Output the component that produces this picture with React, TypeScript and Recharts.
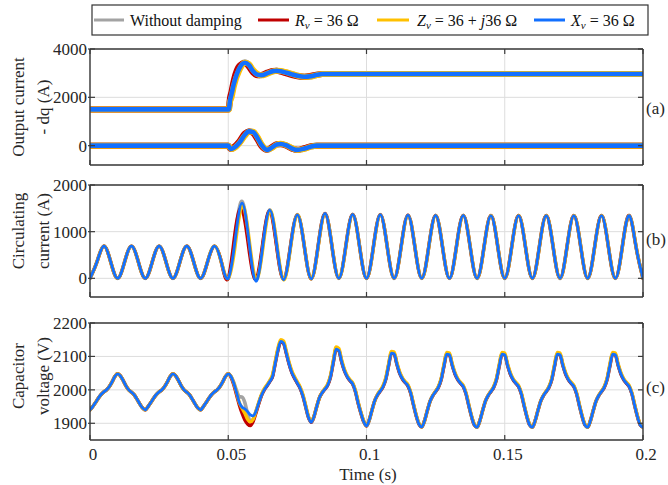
import React from 'react';
import { LineChart, Line, XAxis, YAxis, CartesianGrid } from 'recharts';

const FONT = "'Liberation Serif', 'DejaVu Serif', serif";
const AX = '#3a3a3a';
const GRID = '#dddddd';
const C_NONE = '#a3a3a3';
const C_RV = '#c00000';
const C_ZV = '#ffc000';
const C_XV = '#1270ff';

const timeTicks = [0, 0.05, 0.1, 0.15, 0.2];
const timeTickLabels = ['0', '0.05', '0.1', '0.15', '0.2'];

// ---------- (a) Output current dq ----------
const yTicksA = [0, 2000, 4000];
const yLabelsA = ['0', '2000', '4000'];
const timeA = [0, 0.05, 0.0502, 0.0506, 0.0512, 0.052, 0.054, 0.056, 0.0575, 0.059, 0.0605, 0.062, 0.064, 0.066, 0.0675, 0.069, 0.071, 0.073, 0.075, 0.0775, 0.08, 0.082, 0.084, 0.2];
const noneD = [1500, 1500, 1500, 1850, 2150, 2580, 3230, 3450, 3340, 3070, 2930, 2920, 2990, 3080, 3100, 3080, 3020, 2950, 2890, 2850, 2870, 2930, 2965, 2965];
const noneQ = [0, 0, -30, -100, -135, -90, 120, 450, 590, 560, 330, 30, -175, -60, 50, 70, 10, -110, -175, -120, -30, 0, 0, 0];
const rvD = [1500, 1500, 1540, 1950, 2250, 2700, 3300, 3420, 3260, 3020, 2910, 2930, 3020, 3090, 3100, 3060, 2990, 2920, 2870, 2850, 2890, 2940, 2965, 2965];
const rvQ = [0, 0, -40, -110, -130, -60, 180, 500, 590, 520, 270, -20, -170, -40, 60, 60, 0, -120, -170, -100, -20, 0, 0, 0];
const zvD = [1500, 1500, 1500, 1800, 2000, 2450, 3120, 3430, 3370, 3130, 2970, 2910, 2970, 3060, 3100, 3090, 3040, 2970, 2900, 2850, 2860, 2920, 2965, 2965];
const zvQ = [0, 0, -20, -90, -135, -110, 100, 410, 580, 580, 370, 60, -160, -80, 40, 75, 20, -100, -175, -135, -40, -5, 0, 0];
const xvD = [1500, 1500, 1500, 1850, 2150, 2550, 3200, 3430, 3330, 3080, 2940, 2920, 2990, 3080, 3100, 3080, 3020, 2950, 2890, 2850, 2870, 2930, 2965, 2965];
const xvQ = [0, 0, -30, -100, -135, -90, 120, 450, 590, 560, 330, 30, -175, -60, 50, 70, 10, -110, -175, -120, -30, 0, 0, 0];

// ---------- (b) Circulating current ----------
const yTicksB = [0, 1000, 2000];
const yLabelsB = ['0', '1000', '2000'];
const timeB = [
  0, 0.0025, 0.005, 0.0075, 0.01, 0.0125, 0.015, 0.0175, 0.02, 0.0225,
  0.025, 0.0275, 0.03, 0.0325, 0.035, 0.0375, 0.04, 0.0425, 0.045, 0.0475,
  0.05, 0.0525, 0.055, 0.0575, 0.06, 0.0625, 0.065, 0.0675, 0.07, 0.0725,
  0.075, 0.0775, 0.08, 0.0825, 0.085, 0.0875, 0.09, 0.0925, 0.095, 0.0975,
  0.1, 0.1025, 0.105, 0.1075, 0.11, 0.1125, 0.115, 0.1175, 0.12, 0.1225,
  0.125, 0.1275, 0.13, 0.1325, 0.135, 0.1375, 0.14, 0.1425, 0.145, 0.1475,
  0.15, 0.1525, 0.155, 0.1575, 0.16, 0.1625, 0.165, 0.1675, 0.17, 0.1725,
  0.175, 0.1775, 0.18, 0.1825, 0.185, 0.1875, 0.19, 0.1925, 0.195, 0.1975,
  0.2,
];
const noneB = [
  0, 350, 690, 350, 0, 350, 690, 350, 0, 350, 690, 350, 0, 350, 690, 350, 0, 350, 690, 350, 0,
  880, 1650, 760, -40, 720, 1470, 710, -20, 680, 1365, 690, -10,
  690, 1390, 690, 0, 680, 1370, 680, 0, 675, 1365, 675, 0, 670, 1355, 670, 0,
  670, 1350, 670, 0, 670, 1350, 670, 0, 670, 1345, 670, 0, 670, 1345, 670, 0,
  670, 1345, 670, 0, 670, 1345, 670, 0, 670, 1345, 670, 0, 670, 1345, 670, 0,
];
const rvB = [
  0, 350, 690, 350, 0, 350, 690, 350, 0, 350, 690, 350, 0, 350, 690, 350, 0, 350, 690, 350, 0,
  1000, 1480, 620, -20, 760, 1440, 680, -20, 690, 1360, 690, -10,
  690, 1390, 690, 0, 680, 1370, 680, 0, 675, 1365, 675, 0, 670, 1355, 670, 0,
  670, 1350, 670, 0, 670, 1350, 670, 0, 670, 1345, 670, 0, 670, 1345, 670, 0,
  670, 1345, 670, 0, 670, 1345, 670, 0, 670, 1345, 670, 0, 670, 1345, 670, 0,
];
const zvB = [
  0, 350, 690, 350, 0, 350, 690, 350, 0, 350, 690, 350, 0, 350, 690, 350, 0, 350, 690, 350, 0,
  700, 1560, 860, -20, 640, 1450, 770, -30, 650, 1360, 700, -10,
  670, 1380, 700, 0, 665, 1365, 685, 0, 660, 1360, 680, 0, 660, 1345, 680, 0,
  660, 1345, 680, 0, 660, 1345, 680, 0, 660, 1345, 680, 0, 660, 1345, 680, 0,
  660, 1345, 680, 0, 660, 1345, 680, 0, 660, 1345, 680, 0, 660, 1345, 680, 0,
];
const xvB = [
  0, 350, 690, 350, 0, 350, 690, 350, 0, 350, 690, 350, 0, 350, 690, 350, 0, 350, 690, 350, 0,
  820, 1610, 790, -60, 700, 1460, 730, -30, 680, 1360, 690, -10,
  690, 1390, 690, 0, 680, 1370, 680, 0, 675, 1365, 675, 0, 670, 1355, 670, 0,
  670, 1350, 670, 0, 670, 1350, 670, 0, 670, 1345, 670, 0, 670, 1345, 670, 0,
  670, 1345, 670, 0, 670, 1345, 670, 0, 670, 1345, 670, 0, 670, 1345, 670, 0,
];

// ---------- (c) Capacitor voltage ----------
const yTicksC = [1900, 2000, 2100, 2200];
const yLabelsC = ['1900', '2000', '2100', '2200'];
const timeC = [
  0, 0.001, 0.002, 0.003, 0.004, 0.005, 0.006, 0.007, 0.008, 0.009,
  0.01, 0.011, 0.012, 0.013, 0.014, 0.015, 0.016, 0.017, 0.018, 0.019,
  0.02, 0.021, 0.022, 0.023, 0.024, 0.025, 0.026, 0.027, 0.028, 0.029,
  0.03, 0.031, 0.032, 0.033, 0.034, 0.035, 0.036, 0.037, 0.038, 0.039,
  0.04, 0.041, 0.042, 0.043, 0.044, 0.045, 0.046, 0.047, 0.048, 0.049,
  0.05, 0.051, 0.052, 0.053, 0.054, 0.055, 0.056, 0.057, 0.058, 0.059,
  0.06, 0.061, 0.062, 0.063, 0.064, 0.065, 0.066, 0.067, 0.068, 0.069,
  0.07, 0.071, 0.072, 0.073, 0.074, 0.075, 0.076, 0.077, 0.078, 0.079,
  0.08, 0.081, 0.082, 0.083, 0.084, 0.085, 0.086, 0.087, 0.088, 0.089,
  0.09, 0.091, 0.092, 0.093, 0.094, 0.095, 0.096, 0.097, 0.098, 0.099,
  0.1, 0.101, 0.102, 0.103, 0.104, 0.105, 0.106, 0.107, 0.108, 0.109,
  0.11, 0.111, 0.112, 0.113, 0.114, 0.115, 0.116, 0.117, 0.118, 0.119,
  0.12, 0.121, 0.122, 0.123, 0.124, 0.125, 0.126, 0.127, 0.128, 0.129,
  0.13, 0.131, 0.132, 0.133, 0.134, 0.135, 0.136, 0.137, 0.138, 0.139,
  0.14, 0.141, 0.142, 0.143, 0.144, 0.145, 0.146, 0.147, 0.148, 0.149,
  0.15, 0.151, 0.152, 0.153, 0.154, 0.155, 0.156, 0.157, 0.158, 0.159,
  0.16, 0.161, 0.162, 0.163, 0.164, 0.165, 0.166, 0.167, 0.168, 0.169,
  0.17, 0.171, 0.172, 0.173, 0.174, 0.175, 0.176, 0.177, 0.178, 0.179,
  0.18, 0.181, 0.182, 0.183, 0.184, 0.185, 0.186, 0.187, 0.188, 0.189,
  0.19, 0.191, 0.192, 0.193, 0.194, 0.195, 0.196, 0.197, 0.198, 0.199,
  0.2,
];
const xvC = [
  1940, 1950, 1962, 1975, 1986, 1994, 2000, 2010, 2024, 2040,
  2048, 2042, 2028, 2012, 2000, 1993, 1985, 1972, 1958, 1946,
  1940, 1950, 1962, 1975, 1986, 1994, 2000, 2010, 2024, 2040,
  2048, 2042, 2028, 2012, 2000, 1993, 1985, 1972, 1958, 1946,
  1940, 1950, 1962, 1975, 1986, 1994, 2000, 2010, 2024, 2040,
  2048, 2040, 2020, 1992, 1962, 1948, 1943, 1935, 1925, 1922,
  1935, 1960, 1983, 2000, 2012, 2025, 2040, 2080, 2120, 2145,
  2140, 2110, 2078, 2052, 2035, 2020, 2005, 1982, 1950, 1918,
  1903, 1920, 1950, 1977, 1992, 2003, 2015, 2040, 2083, 2122,
  2118, 2085, 2058, 2040, 2028, 2018, 1995, 1960, 1930, 1905,
  1892, 1910, 1940, 1968, 1985, 1997, 2010, 2033, 2073, 2110,
  2108, 2077, 2050, 2033, 2022, 2012, 1990, 1955, 1922, 1897,
  1889, 1908, 1938, 1966, 1983, 1995, 2008, 2031, 2071, 2107,
  2105, 2074, 2048, 2031, 2020, 2010, 1988, 1953, 1920, 1895,
  1888, 1908, 1938, 1966, 1983, 1995, 2008, 2031, 2071, 2107,
  2105, 2074, 2048, 2031, 2020, 2010, 1988, 1953, 1920, 1895,
  1888, 1908, 1938, 1966, 1983, 1995, 2008, 2031, 2071, 2107,
  2105, 2074, 2048, 2031, 2020, 2010, 1988, 1953, 1920, 1895,
  1888, 1908, 1938, 1966, 1983, 1995, 2008, 2031, 2071, 2107,
  2105, 2074, 2048, 2031, 2020, 2010, 1988, 1953, 1920, 1895,
  1888,
];
const rvC = [
  1940, 1950, 1962, 1975, 1986, 1994, 2000, 2010, 2024, 2040,
  2048, 2042, 2028, 2012, 2000, 1993, 1985, 1972, 1958, 1946,
  1940, 1950, 1962, 1975, 1986, 1994, 2000, 2010, 2024, 2040,
  2048, 2042, 2028, 2012, 2000, 1993, 1985, 1972, 1958, 1946,
  1940, 1950, 1962, 1975, 1986, 1994, 2000, 2010, 2024, 2040,
  2048, 2038, 2015, 1985, 1955, 1930, 1910, 1898, 1893, 1905,
  1930, 1958, 1983, 2000, 2012, 2025, 2040, 2080, 2120, 2145,
  2140, 2110, 2078, 2052, 2035, 2020, 2005, 1982, 1950, 1918,
  1903, 1920, 1950, 1977, 1992, 2003, 2015, 2040, 2083, 2122,
  2118, 2085, 2058, 2040, 2028, 2018, 1995, 1960, 1930, 1905,
  1892, 1910, 1940, 1968, 1985, 1997, 2010, 2033, 2073, 2110,
  2108, 2077, 2050, 2033, 2022, 2012, 1990, 1955, 1922, 1897,
  1889, 1908, 1938, 1966, 1983, 1995, 2008, 2031, 2071, 2107,
  2105, 2074, 2048, 2031, 2020, 2010, 1988, 1953, 1920, 1895,
  1888, 1908, 1938, 1966, 1983, 1995, 2008, 2031, 2071, 2107,
  2105, 2074, 2048, 2031, 2020, 2010, 1988, 1953, 1920, 1895,
  1888, 1908, 1938, 1966, 1983, 1995, 2008, 2031, 2071, 2107,
  2105, 2074, 2048, 2031, 2020, 2010, 1988, 1953, 1920, 1895,
  1888, 1908, 1938, 1966, 1983, 1995, 2008, 2031, 2071, 2107,
  2105, 2074, 2048, 2031, 2020, 2010, 1988, 1953, 1920, 1895,
  1888,
];
const noneC = [
  1940, 1950, 1962, 1975, 1986, 1994, 2000, 2010, 2024, 2040,
  2048, 2042, 2028, 2012, 2000, 1993, 1985, 1972, 1958, 1946,
  1940, 1950, 1962, 1975, 1986, 1994, 2000, 2010, 2024, 2040,
  2048, 2042, 2028, 2012, 2000, 1993, 1985, 1972, 1958, 1946,
  1940, 1950, 1962, 1975, 1986, 1994, 2000, 2010, 2024, 2040,
  2048, 2040, 2022, 1998, 1980, 1978, 1962, 1928, 1905, 1912,
  1935, 1960, 1983, 2000, 2012, 2025, 2040, 2080, 2120, 2145,
  2140, 2110, 2078, 2052, 2035, 2020, 2005, 1982, 1950, 1918,
  1903, 1920, 1950, 1977, 1992, 2003, 2015, 2040, 2083, 2122,
  2118, 2085, 2058, 2040, 2028, 2018, 1995, 1960, 1930, 1905,
  1892, 1910, 1940, 1968, 1985, 1997, 2010, 2033, 2073, 2110,
  2108, 2077, 2050, 2033, 2022, 2012, 1990, 1955, 1922, 1897,
  1889, 1908, 1938, 1966, 1983, 1995, 2008, 2031, 2071, 2107,
  2105, 2074, 2048, 2031, 2020, 2010, 1988, 1953, 1920, 1895,
  1888, 1908, 1938, 1966, 1983, 1995, 2008, 2031, 2071, 2107,
  2105, 2074, 2048, 2031, 2020, 2010, 1988, 1953, 1920, 1895,
  1888, 1908, 1938, 1966, 1983, 1995, 2008, 2031, 2071, 2107,
  2105, 2074, 2048, 2031, 2020, 2010, 1988, 1953, 1920, 1895,
  1888, 1908, 1938, 1966, 1983, 1995, 2008, 2031, 2071, 2107,
  2105, 2074, 2048, 2031, 2020, 2010, 1988, 1953, 1920, 1895,
  1888,
];
const zvC = [
  1940, 1950, 1962, 1975, 1986, 1994, 2000, 2010, 2024, 2040,
  2048, 2042, 2028, 2012, 2000, 1993, 1985, 1972, 1958, 1946,
  1940, 1950, 1962, 1975, 1986, 1994, 2000, 2010, 2024, 2040,
  2048, 2042, 2028, 2012, 2000, 1993, 1985, 1972, 1958, 1946,
  1940, 1950, 1962, 1975, 1986, 1994, 2000, 2010, 2024, 2040,
  2048, 2040, 2020, 1992, 1962, 1945, 1930, 1912, 1905, 1912,
  1935, 1962, 1986, 2003, 2015, 2028, 2045, 2086, 2126, 2150,
  2146, 2116, 2083, 2057, 2039, 2024, 2009, 1986, 1954, 1921,
  1905, 1921, 1950, 1977, 1993, 2005, 2018, 2044, 2088, 2128,
  2124, 2090, 2062, 2043, 2031, 2021, 1998, 1963, 1932, 1907,
  1893, 1910, 1940, 1968, 1986, 1999, 2013, 2037, 2078, 2115,
  2113, 2081, 2054, 2036, 2025, 2015, 1993, 1958, 1924, 1899,
  1889, 1908, 1938, 1966, 1984, 1996, 2010, 2034, 2076, 2112,
  2110, 2078, 2052, 2034, 2023, 2013, 1991, 1956, 1922, 1897,
  1888, 1908, 1938, 1966, 1984, 1996, 2010, 2034, 2076, 2112,
  2110, 2078, 2052, 2034, 2023, 2013, 1991, 1956, 1922, 1897,
  1888, 1908, 1938, 1966, 1984, 1996, 2010, 2034, 2076, 2112,
  2110, 2078, 2052, 2034, 2023, 2013, 1991, 1956, 1922, 1897,
  1888, 1908, 1938, 1966, 1984, 1996, 2010, 2034, 2076, 2112,
  2110, 2078, 2052, 2034, 2023, 2013, 1991, 1956, 1922, 1897,
  1888,
];

const tableA = timeA.map((t, i) => ({
  t, noneD: noneD[i], noneQ: noneQ[i], rvD: rvD[i], rvQ: rvQ[i],
  zvD: zvD[i], zvQ: zvQ[i], xvD: xvD[i], xvQ: xvQ[i],
}));
const tableB = timeB.map((t, i) => ({ t, none: noneB[i], rv: rvB[i], zv: zvB[i], xv: xvB[i] }));
const tableC = timeC.map((t, i) => ({ t, none: noneC[i], rv: rvC[i], zv: zvC[i], xv: xvC[i] }));

const textStyle: React.CSSProperties = { fontFamily: FONT, fontSize: 17, fill: '#262626' };

const makeBottomTick = (show: boolean) => (p: any) => {
  const i = timeTicks.indexOf(p.payload.value);
  return (
    <g>
      <line x1={p.x} x2={p.x} y1={p.y} y2={p.y - 5} stroke={AX} strokeWidth={1.2} />
      {show && (
        <text x={p.x + 3} y={p.y + 20} textAnchor="middle" style={textStyle}>
          {timeTickLabels[i]}
        </text>
      )}
    </g>
  );
};
const TopTick = (p: any) => (
  <line x1={p.x} x2={p.x} y1={p.y} y2={p.y + 5} stroke={AX} strokeWidth={1.2} />
);
const makeLeftTick = (ticks: number[], labels: string[]) => (p: any) => {
  const i = ticks.indexOf(p.payload.value);
  return (
    <g>
      <line x1={p.x + 1} x2={p.x + 8} y1={p.y} y2={p.y} stroke={AX} strokeWidth={1.2} />
      <text x={p.x} y={p.y} dy="0.35em" textAnchor="end" style={textStyle}>
        {labels[i]}
      </text>
    </g>
  );
};
const RightTick = (p: any) => (
  <line x1={p.x - 5} x2={p.x} y1={p.y} y2={p.y} stroke={AX} strokeWidth={1.2} />
);

const axisLine = { stroke: AX, strokeWidth: 1.4 };

type LineSpec = { key: string; color: string; width: number };

function Panel(props: {
  top: number; height: number; mt: number; mb: number; xh: number; showX: boolean;
  data: any[]; domain: [number, number]; ticks: number[]; labels: string[];
  lines: LineSpec[]; curve: any;
}) {
  const { top, height, mt, mb, xh, showX, data, domain, ticks, labels, lines, curve } = props;
  return (
    <div style={{ position: 'absolute', left: 0, top, width: 668, height }}>
      <LineChart width={668} height={height} data={data} margin={{ top: mt, right: 24, bottom: mb, left: 0 }}>
        <CartesianGrid stroke={GRID} strokeWidth={1} />
        <XAxis
          dataKey="t" type="number" domain={[0, 0.2]} ticks={timeTicks} interval={0}
          height={xh} tickSize={0} tickMargin={0} tickLine={false} axisLine={axisLine}
          tick={makeBottomTick(showX)} allowDataOverflow
        />
        <XAxis
          xAxisId="top" orientation="top" dataKey="t" type="number" domain={[0, 0.2]}
          ticks={timeTicks} interval={0} height={1} tickSize={0} tickMargin={0}
          tickLine={false} axisLine={axisLine} tick={TopTick} allowDataOverflow
        />
        <YAxis
          type="number" domain={domain} ticks={ticks} interval={0} width={90}
          tickSize={0} tickMargin={3} tickLine={false} axisLine={axisLine}
          tick={makeLeftTick(ticks, labels)} allowDataOverflow
        />
        <YAxis
          yAxisId="r" orientation="right" type="number" domain={domain} ticks={ticks}
          interval={0} width={1} tickSize={0} tickMargin={0} tickLine={false}
          axisLine={axisLine} tick={RightTick} allowDataOverflow
        />
        {lines.map((l) => (
          <Line
            key={l.key} dataKey={l.key} type={curve} stroke={l.color} strokeWidth={l.width}
            dot={false} activeDot={false} isAnimationActive={false}
            strokeLinejoin="round" strokeLinecap="round"
          />
        ))}
      </LineChart>
    </div>
  );
}

const linesA: LineSpec[] = [
  { key: 'noneD', color: C_NONE, width: 6.2 },
  { key: 'noneQ', color: C_NONE, width: 6.2 },
  { key: 'rvD', color: C_RV, width: 6 },
  { key: 'rvQ', color: C_RV, width: 6 },
  { key: 'zvD', color: C_ZV, width: 6 },
  { key: 'zvQ', color: C_ZV, width: 6 },
  { key: 'xvD', color: C_XV, width: 4.6 },
  { key: 'xvQ', color: C_XV, width: 4.6 },
];
const linesBC: LineSpec[] = [
  { key: 'none', color: C_NONE, width: 3.6 },
  { key: 'rv', color: C_RV, width: 3.4 },
  { key: 'zv', color: C_ZV, width: 3.4 },
  { key: 'xv', color: C_XV, width: 2.8 },
];

function YTitle({ cy, l1, l2 }: { cy: number; l1: string; l2: string }) {
  return (
    <g>
      <text x={18} y={cy} transform={`rotate(-90 18 ${cy})`} textAnchor="middle" dominantBaseline="central" style={textStyle}>{l1}</text>
      <text x={43} y={cy} transform={`rotate(-90 43 ${cy})`} textAnchor="middle" dominantBaseline="central" style={textStyle}>{l2}</text>
    </g>
  );
}

function Overlay() {
  const lg: React.CSSProperties = { fontFamily: FONT, fontSize: 16, fill: '#111' };
  return (
    <svg width={668} height={485} style={{ position: 'absolute', left: 0, top: 0, pointerEvents: 'none' }}>
      <rect x={92} y={5} width={556} height={30} fill="#fff" stroke="#333" strokeWidth={1.2} />
      <line x1={94} x2={124} y1={20} y2={20} stroke={C_NONE} strokeWidth={3} />
      <text x={130} y={25.5} style={lg}>Without damping</text>
      <line x1={258} x2={289} y1={20} y2={20} stroke={C_RV} strokeWidth={3} />
      <text x={295} y={25.5} style={lg}>
        <tspan fontStyle="italic">R</tspan>
        <tspan fontStyle="italic" fontSize={11} dy={3}>v</tspan>
        <tspan dy={-3}> = 36 Ω</tspan>
      </text>
      <line x1={377} x2={409} y1={20} y2={20} stroke={C_ZV} strokeWidth={3} />
      <text x={417} y={25.5} style={lg}>
        <tspan fontStyle="italic">Z</tspan>
        <tspan fontStyle="italic" fontSize={11} dy={3}>v</tspan>
        <tspan dy={-3}> = 36 + </tspan>
        <tspan fontStyle="italic">j</tspan>
        <tspan>36 Ω</tspan>
      </text>
      <line x1={534} x2={565} y1={20} y2={20} stroke={C_XV} strokeWidth={3} />
      <text x={571} y={25.5} style={lg}>
        <tspan fontStyle="italic">X</tspan>
        <tspan fontStyle="italic" fontSize={11} dy={3}>v</tspan>
        <tspan dy={-3}> = 36 Ω</tspan>
      </text>

      <YTitle cy={107} l1="Output current" l2="- dq (A)" />
      <YTitle cy={231} l1="Circulating" l2="current (A)" />
      <YTitle cy={376} l1="Capacitor" l2="voltage (V)" />

      <text x={646} y={108} dy="0.35em" style={textStyle}>(a)</text>
      <text x={646} y={239} dy="0.35em" style={textStyle}>(b)</text>
      <text x={646} y={387} dy="0.35em" style={textStyle}>(c)</text>

      <text x={368} y={480} textAnchor="middle" style={textStyle}>Time (s)</text>
    </svg>
  );
}

export default function App() {
  return (
    <div style={{ position: 'absolute', left: 0, top: 0, width: 668, height: 485, background: '#fff', fontFamily: FONT }}>
      <Panel top={0} height={170} mt={48} mb={4} xh={1} showX={false} data={tableA}
        domain={[-800, 4000]} ticks={yTicksA} labels={yLabelsA} lines={linesA} curve="monotone" />
      <Panel top={170} height={132} mt={14} mb={4} xh={1} showX={false} data={tableB}
        domain={[-400, 2000]} ticks={yTicksB} labels={yLabelsB} lines={linesBC} curve="natural" />
      <Panel top={302} height={183} mt={20} mb={5} xh={40} showX={true} data={tableC}
        domain={[1850, 2200]} ticks={yTicksC} labels={yLabelsC} lines={linesBC} curve="monotone" />
      <Overlay />
    </div>
  );
}
